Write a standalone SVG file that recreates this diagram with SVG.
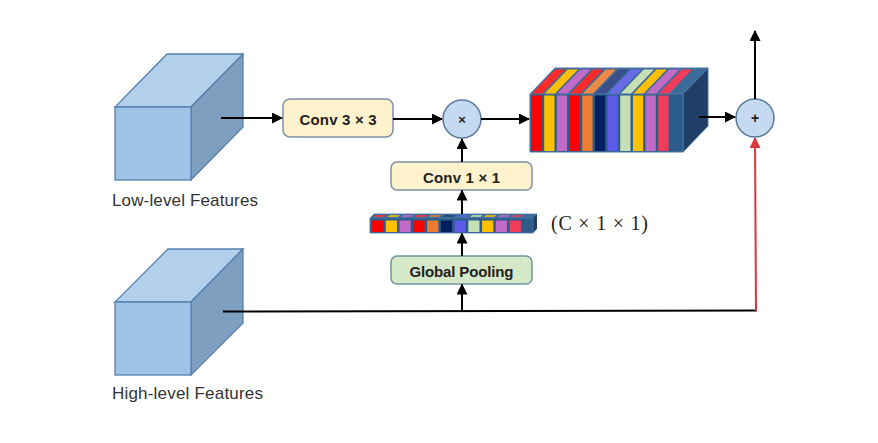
<svg xmlns="http://www.w3.org/2000/svg" width="878" height="443" viewBox="0 0 878 443">
<defs>
<marker id="ah" markerUnits="userSpaceOnUse" markerWidth="11" markerHeight="11" refX="10" refY="5.5" orient="auto"><path d="M0,0 L11,5.5 L0,11 z" fill="#000"/></marker>
<marker id="ahr" markerUnits="userSpaceOnUse" markerWidth="11" markerHeight="11" refX="10" refY="5.5" orient="auto"><path d="M0,0 L11,5.5 L0,11 z" fill="#D9363E"/></marker>
</defs>
<style>
.cf{fill:#9DC3E6;stroke:#5480AC;stroke-width:1.3}
.ct{fill:#B2CFEC;stroke:#5480AC;stroke-width:1.3}
.cr{fill:#7E9FC0;stroke:#5480AC;stroke-width:1.3}
.lbl{font-family:"Liberation Sans",Arial,sans-serif;font-size:17px;fill:#333}
.bt{font-family:"Liberation Sans",Arial,sans-serif;font-size:15px;font-weight:bold;fill:#222;text-anchor:middle}
.conv{fill:#FFF2CC;stroke:#7F8FA6;stroke-width:1.5}
.gp{fill:#D5E8C8;stroke:#6F95A0;stroke-width:1.5}
.op{fill:#C5D9F0;stroke:#5B7A99;stroke-width:1.5}
.ln{stroke:#000;stroke-width:2;fill:none}
.sf{fill:#2E5C8A}
</style>
<rect width="878" height="443" fill="#fff"/>
<g id="low-cube">
<polygon class="ct" points="115,107 191,107 243,54 167,54"/>
<polygon class="cr" points="191,107 243,54 243,127 191,180"/>
<rect class="cf" x="115" y="107" width="76" height="73"/>
<text class="lbl" x="112" y="206" textLength="146">Low-level Features</text>
</g>
<g id="high-cube">
<polygon class="ct" points="115,302 191,302 243,249 168,249"/>
<polygon class="cr" points="191,302 243,249 243,323 191,375"/>
<rect class="cf" x="115" y="302" width="76" height="73"/>
<text class="lbl" x="112" y="399" textLength="151">High-level Features</text>
</g>
<g id="conv3">
<rect class="conv" x="283" y="99" width="110" height="38" rx="7"/>
<text class="bt" x="338" y="125" textLength="77">Conv 3 × 3</text>
</g>
<g id="mul">
<circle class="op" cx="462" cy="119" r="19"/>
<text x="462" y="123.5" font-family="Liberation Sans,Arial,sans-serif" font-size="13" font-weight="bold" text-anchor="middle" fill="#222">×</text>
</g>
<g id="conv1">
<rect class="conv" x="391" y="162" width="141" height="28" rx="6"/>
<text class="bt" x="461.5" y="182.5" textLength="77">Conv 1 × 1</text>
</g>
<g id="gpool">
<rect class="gp" x="391" y="256" width="141" height="28" rx="6"/>
<text class="bt" x="461.5" y="276.5" textLength="104">Global Pooling</text>
</g>
<g id="vector">
<polygon points="370,218 533,218 537,214 374,214" fill="#3D6B99" stroke="#4A78A5" stroke-width="0.8"/>
<polygon points="533,218 537,214 537,229 533,233" fill="#1F3F66"/>
<rect class="sf" x="370" y="218" width="163" height="15" stroke="#4A78A5" stroke-width="0.8"/>
<g transform="matrix(1,0,1,-1,0,218)" opacity="0.8">
<rect x="372.7" y="1" width="10.5" height="2" fill="#FF3030"/>
<rect x="386.5" y="1" width="10.5" height="2" fill="#FFC000"/>
<rect x="400.2" y="1" width="10.5" height="2" fill="#C06CC6"/>
<rect x="414" y="1" width="10.5" height="2" fill="#FF3030"/>
<rect x="427.8" y="1" width="10.5" height="2" fill="#ED7D31"/>
<rect x="441.5" y="1" width="10.5" height="2" fill="#2A3F80"/>
<rect x="455.3" y="1" width="10.5" height="2" fill="#6060E8"/>
<rect x="469" y="1" width="10.5" height="2" fill="#C5E0B4"/>
<rect x="482.8" y="1" width="10.5" height="2" fill="#FFC000"/>
<rect x="496.5" y="1" width="10.5" height="2" fill="#C06CC6"/>
<rect x="510.3" y="1" width="10.5" height="2" fill="#F23C5A"/>
</g>
<rect x="372" y="220.5" width="11.2" height="11.5" fill="#FF0000"/>
<rect x="385.8" y="220.5" width="11.2" height="11.5" fill="#FFC000"/>
<rect x="399.5" y="220.5" width="11.2" height="11.5" fill="#C06CC6"/>
<rect x="413.3" y="220.5" width="11.2" height="11.5" fill="#FF0000"/>
<rect x="427.1" y="220.5" width="11.2" height="11.5" fill="#ED7D31"/>
<rect x="440.8" y="220.5" width="11.2" height="11.5" fill="#002060"/>
<rect x="454.6" y="220.5" width="11.2" height="11.5" fill="#5B5BE8"/>
<rect x="468.3" y="220.5" width="11.2" height="11.5" fill="#C5E0B4"/>
<rect x="482.1" y="220.5" width="11.2" height="11.5" fill="#FFC000"/>
<rect x="495.8" y="220.5" width="11.2" height="11.5" fill="#C06CC6"/>
<rect x="509.6" y="220.5" width="11.2" height="11.5" fill="#F23C5A"/>
<text x="551" y="230" font-family="Liberation Serif,Times New Roman,serif" font-size="20" fill="#222" textLength="97">(C × 1 × 1)</text>
</g>
<g id="block">
<polygon points="530,94 683,94 708,68 555,68" fill="#3D6B99" stroke="#4A78A5" stroke-width="1"/>
<polygon points="683,94 708,68 708,126 683,152" fill="#1F3F66" stroke="#4A78A5" stroke-width="1"/>
<rect class="sf" x="530" y="94" width="153" height="58" stroke="#4A78A5" stroke-width="1"/>
<g transform="matrix(1,0,0.9615,-1,0,94)">
<rect x="531.5" y="0.5" width="10.3" height="24" fill="#FF2A2A"/>
<rect x="544.2" y="0.5" width="10.3" height="24" fill="#FFC000"/>
<rect x="556.8" y="0.5" width="10.3" height="24" fill="#C06CC6"/>
<rect x="569.5" y="0.5" width="10.3" height="24" fill="#FF2A2A"/>
<rect x="582.2" y="0.5" width="10.3" height="24" fill="#ED8A45"/>
<rect x="594.9" y="0.5" width="10.3" height="24" fill="#3A4F8A"/>
<rect x="607.5" y="0.5" width="10.3" height="24" fill="#6A6AE8"/>
<rect x="620.2" y="0.5" width="10.3" height="24" fill="#C5E0B4"/>
<rect x="632.9" y="0.5" width="10.3" height="24" fill="#FFC000"/>
<rect x="645.5" y="0.5" width="10.3" height="24" fill="#C06CC6"/>
<rect x="658.2" y="0.5" width="10.3" height="24" fill="#F23C5A"/>
</g>
<rect x="531.5" y="95.5" width="10.3" height="55.5" fill="#FF0000"/>
<rect x="544.2" y="95.5" width="10.3" height="55.5" fill="#FFC000"/>
<rect x="556.8" y="95.5" width="10.3" height="55.5" fill="#C06CC6"/>
<rect x="569.5" y="95.5" width="10.3" height="55.5" fill="#FF0000"/>
<rect x="582.2" y="95.5" width="10.3" height="55.5" fill="#ED7D31"/>
<rect x="594.9" y="95.5" width="10.3" height="55.5" fill="#002060"/>
<rect x="607.5" y="95.5" width="10.3" height="55.5" fill="#5B5BE8"/>
<rect x="620.2" y="95.5" width="10.3" height="55.5" fill="#C5E0B4"/>
<rect x="632.9" y="95.5" width="10.3" height="55.5" fill="#FFC000"/>
<rect x="645.5" y="95.5" width="10.3" height="55.5" fill="#C06CC6"/>
<rect x="658.2" y="95.5" width="10.3" height="55.5" fill="#F23C5A"/>
</g>
<g id="add">
<circle class="op" cx="755" cy="118" r="19"/>
<text x="755" y="122.5" font-family="Liberation Sans,Arial,sans-serif" font-size="14" font-weight="bold" text-anchor="middle" fill="#222">+</text>
</g>
<g id="connectors">
<line class="ln" x1="221" y1="118" x2="282" y2="118" marker-end="url(#ah)"/>
<line class="ln" x1="393" y1="119" x2="442" y2="119" marker-end="url(#ah)"/>
<line class="ln" x1="481" y1="119" x2="529" y2="119" marker-end="url(#ah)"/>
<line class="ln" x1="462" y1="162" x2="462" y2="139" marker-end="url(#ah)"/>
<line class="ln" x1="462" y1="214" x2="462" y2="190.5" marker-end="url(#ah)"/>
<line class="ln" x1="462" y1="256" x2="462" y2="233.5" marker-end="url(#ah)"/>
<line class="ln" x1="462" y1="311" x2="462" y2="284.5" marker-end="url(#ah)"/>
<polyline class="ln" points="223,311.5 757,310.5"/>
<line x1="756" y1="311" x2="755" y2="138" stroke="#D9363E" stroke-width="2" marker-end="url(#ahr)"/>
<line class="ln" x1="699" y1="117" x2="735" y2="117" marker-end="url(#ah)"/>
<line class="ln" x1="755" y1="99" x2="755" y2="31" marker-end="url(#ah)"/>
</g>
</svg>
